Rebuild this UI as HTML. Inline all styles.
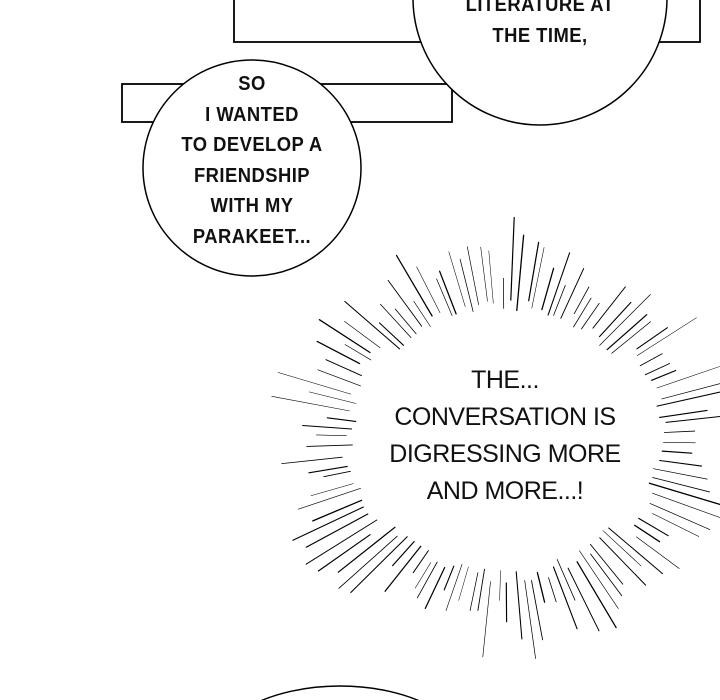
<!DOCTYPE html>
<html><head><meta charset="utf-8"><style>
html,body{margin:0;padding:0;background:#fff;width:720px;height:700px;overflow:hidden;}
#w{position:relative;width:720px;height:700px;overflow:hidden;background:#fff;}
svg{position:absolute;left:0;top:0;}
.c{position:absolute;font-family:"Liberation Sans",sans-serif;text-align:center;color:#111;}
.comic{font-weight:bold;font-size:20px;line-height:30.5px;letter-spacing:0.5px;transform:scaleX(0.92);}
.burst{font-size:25px;line-height:37px;letter-spacing:-0.5px;}
</style></head><body><div id="w">
<svg id="s" width="720" height="700" viewBox="0 0 720 700">
<rect x="234" y="-10" width="466" height="52" fill="#fff" stroke="#000" stroke-width="1.8"/>
<rect x="122" y="84" width="330" height="38" fill="#fff" stroke="#000" stroke-width="1.8"/>
<ellipse cx="540" cy="-2" rx="127" ry="127" fill="#fff" stroke="#000" stroke-width="1.5"/>
<ellipse cx="252" cy="168" rx="109" ry="108" fill="#fff" stroke="#000" stroke-width="1.5"/>
<ellipse cx="340" cy="760" rx="132" ry="74" fill="#fff" stroke="#000" stroke-width="1.5"/>
<g id="b" stroke="#000" stroke-linecap="round"></g>
</svg>
<div class="c comic" style="left:440px;top:-10px;width:200px;">LITERATURE AT<br>THE TIME,</div>
<div class="c comic" style="left:152px;top:69px;width:200px;">SO<br>I WANTED<br>TO DEVELOP A<br>FRIENDSHIP<br>WITH MY<br>PARAKEET...</div>
<div class="c burst" style="left:380px;top:362px;width:250px;">THE...<br>CONVERSATION IS<br>DIGRESSING MORE<br>AND MORE...!</div>
</div>
<script>
var g=document.getElementById('b'),cx=505,cy=440,seed=7;
function r(){seed=(seed*9301+49297)%233280;return seed/233280;}
var n=110,out='';
for(var i=0;i<n;i++){
 var a=i/n*Math.PI*2+r()*0.03;
 var ca=Math.cos(a),sa=Math.sin(a);
 var ri=(Math.abs(ca)>0.8?150:130)+r()*15;
 var ro=ri+25+r()*60;
 var x1=cx+ca*ri,y1=cy+sa*ri,x2=cx+ca*ro,y2=cy+sa*ro;
 out+='<line x1="'+x1.toFixed(1)+'" y1="'+y1.toFixed(1)+'" x2="'+x2.toFixed(1)+'" y2="'+y2.toFixed(1)+'" stroke-width="'+(0.5+r()*0.8).toFixed(2)+'"/>';
}
g.innerHTML=out;
</script>
</body></html>
